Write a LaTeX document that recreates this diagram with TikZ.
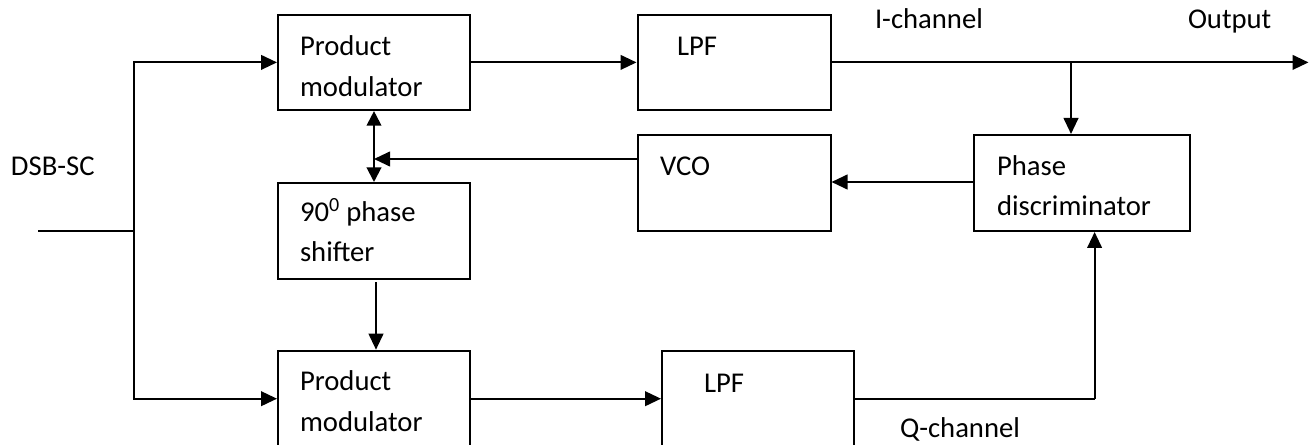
\documentclass[tikz,border=0pt]{standalone}
\usepackage{fontspec}
\setmainfont{Carlito}
\usetikzlibrary{arrows.meta,calc}
\begin{document}
\begin{tikzpicture}[x=0.75pt,y=-0.75pt,
  line width=1.5pt,
  box/.style={draw,rectangle,inner sep=0pt,line width=1.5pt},
  txt/.style={anchor=base west,inner sep=0pt,font=\fontsize{21.5pt}{30pt}\selectfont},
  arr/.style={-{Triangle[length=12pt,width=11pt]}},
  darr/.style={{Triangle[length=11pt,width=11pt]}-{Triangle[length=11pt,width=11pt]}}]
\useasboundingbox (0,0) rectangle (1309,445);
\clip (0,0) rectangle (1309,445);
% boxes
\node[box,minimum width=144pt,minimum height=71.5pt] (pm1) at (374,62.4) {};
\node[box,minimum width=144.75pt,minimum height=71.5pt] (lpf1) at (734,62.4) {};
\node[box,minimum width=144.75pt,minimum height=72pt] (vco) at (734,183) {};
\node[box,minimum width=162.4pt,minimum height=72pt] (pd) at (1082,183) {};
\node[box,minimum width=144pt,minimum height=72pt] (ps) at (374,231) {};
\node[box,minimum width=144pt,minimum height=72pt] (pm2) at (374,398.7) {};
\node[box,minimum width=144pt,minimum height=72pt] (lpf2) at (758,398.7) {};
% texts
\node[txt] (pm1a) at (299,56) {Product};
\node[txt] (pm1b) at (299,97) {modulator};
\node[txt] (lpf1t) at (676,56) {LPF};
\node[txt] (vcot) at (659,176) {VCO};
\node[txt] (pda) at (996,176) {Phase};
\node[txt] (pdb) at (996,216) {discriminator};
\node[txt] (psa) at (299,222) {90\textsuperscript{0} phase};
\node[txt] (psb) at (299,262) {shifter};
\node[txt] (pm2a) at (299,390) {Product};
\node[txt] (pm2b) at (299,431) {modulator};
\node[txt] (lpf2t) at (703,392) {LPF};
\node[txt] (dsb) at (10,176) {DSB-SC};
\node[txt] (ich) at (874,29) {I-channel};
\node[txt] (outl) at (1187,29) {Output};
\node[txt] (qch) at (899,437) {Q-channel};
% coordinates
\coordinate (in) at (38,230.7);
\coordinate (j) at (134,230.7);
\coordinate (out) at (1308.5,62.4);
\coordinate (br) at (1071,62.4);
\coordinate (vj) at (374,159);
\coordinate (qc) at (1094.6,398.7);
% connectors
\draw (in) -- (j);
\draw[arr] (j) |- (pm1.west);
\draw[arr] (j) |- (pm2.west);
\draw[arr] (pm1.east) -- (lpf1.west);
\draw[arr] (lpf1.east) -- (out);
\draw[arr] (br) -- (br |- pd.north);
\draw[arr] (pd.west |- 0,182) -- (vco.east |- 0,182);
\draw[arr] (vco.west |- vj) -- (vj);
\draw[darr] (pm1.south) -- (ps.north);
\draw[arr] ($(ps.south)+(2,2)$) -- ($(pm2.north)+(2,0)$);
\draw[arr] (pm2.east) -- (lpf2.west);
\draw (lpf2.east) -- (qc);
\draw[arr] (qc) -- (qc |- pd.south);
\end{tikzpicture}
\end{document}
